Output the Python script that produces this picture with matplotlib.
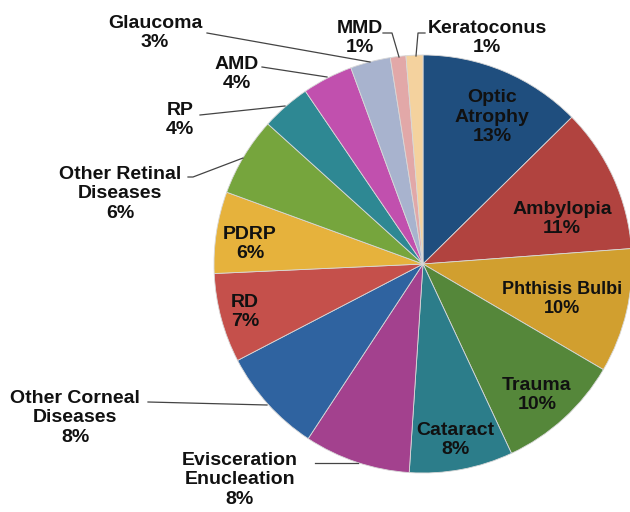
import matplotlib
matplotlib.use("Agg")
import matplotlib.pyplot as plt

categories = ["Optic\nAtrophy", "Ambylopia", "Phthisis Bulbi", "Trauma", "Cataract",
              "Evisceration\nEnucleation", "Other Corneal\nDiseases", "RD", "PDRP",
              "Other Retinal\nDiseases", "RP", "AMD", "Glaucoma", "MMD", "Keratoconus"]
values = [12.6, 11.2, 9.6, 9.6, 8.0, 8.2, 8.1, 6.9, 6.3, 6.1, 3.8, 3.9, 3.1, 1.2, 1.3]
colors = ["#1F4E7E", "#B1433F", "#D19F2F", "#55873A", "#2C7D8A", "#A3418E", "#2F63A0",
          "#C5504B", "#E6B23C", "#76A53D", "#2E8893", "#C150AE", "#A8B3CE", "#E2A8A8", "#F4D29E"]

plt.rcParams['font.family'] = ['Liberation Sans', 'DejaVu Sans']

fig = plt.figure(figsize=(6.3, 5.12), dpi=100)
W, H = 630, 512
cx, cy, r = 423, 264, 209
ax = fig.add_axes([(cx - r) / W, (H - cy - r) / H, 2 * r / W, 2 * r / H])
wedges, _ = ax.pie(values, colors=colors, startangle=90, counterclock=False,
                   radius=1, wedgeprops=dict(linewidth=0.6, edgecolor="#d8d8d8"))
for w in wedges:
    w.set_clip_on(False)
ax.set_xlim(-1, 1)
ax.set_ylim(-1, 1)
ax.set_aspect("equal")
ax.axis("off")

total = sum(values)
labels = [f"{c}\n{round(v / total * 100)}%" for c, v in zip(categories, values)]

def px(x, y):
    return ((x - cx) / r, (cy - y) / r)

FS = 14
LS = 1.2

# label positions (pixel coords of text centre), inside labels
inside = {0: (492, 117), 1: (562, 219), 2: (562, 299), 3: (537, 395),
          4: (455, 440), 7: (245, 312), 8: (250, 244)}
for i, pos in inside.items():
    ax.text(*px(*pos), labels[i], ha="center", va="center",
            fontsize=13 if i == 2 else FS,
            fontweight="bold", color="#111111", linespacing=LS)

# outside labels: text centre, leader polyline
outside = {
    14: ((487, 38), [(416, 56), (418, 33), (425, 33)]),
    13: ((360, 38), [(399, 57), (392, 33), (383, 33)]),
    12: ((155, 33), [(207, 33), (370, 62)]),
    11: ((237, 74), [(262, 67), (327, 77)]),
    10: ((180, 120), [(200, 115), (285, 106)]),
    9: ((120, 194), [(188, 177), (193, 177), (243, 158)]),
    6: ((75, 418), [(148, 402), (267, 405)]),
    5: ((240, 480), [(315, 463), (358, 463)]),
}
for i, (pos, line) in outside.items():
    ax.text(*px(*pos), labels[i], ha="center", va="center", fontsize=FS,
            fontweight="bold", color="#111111", linespacing=LS, clip_on=False)
    xs = [px(*p)[0] for p in line]
    ys = [px(*p)[1] for p in line]
    ax.plot(xs, ys, color="#444444", linewidth=0.9, clip_on=False)

fig.savefig("out.png", dpi=100)
